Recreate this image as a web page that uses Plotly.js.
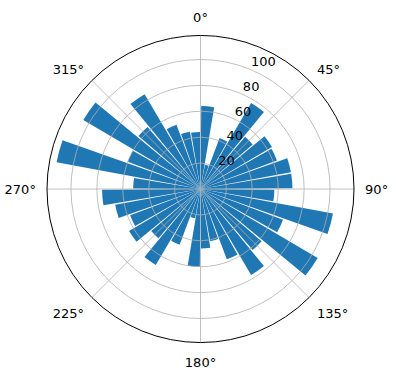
<!DOCTYPE html>
<html>
<head>
<meta charset="utf-8">
<script src="https://cdn.plot.ly/plotly-3.0.1.min.js"></script>
<style>html,body{margin:0;padding:0;background:#fff;}#chart{width:396px;height:380px;}</style>
</head>
<body>
<div id="chart"></div>
<script>
// Bar centre angles (degrees, clockwise from north)
const thetaDeg = [5,15,25,35,45,55,65,75,85,95,105,115,125,135,145,155,165,175,
                  185,195,205,215,225,235,245,255,265,275,285,295,305,315,325,335,345,355];
// Bar lengths (radial values)
const radii = [64,19,42,77,53,64,63,71,71,57,104,68,105,62,77,58,41,46,
               60,23,46,68,50,64,58,67,76,52,113,60,105,63,85,53,45,44];
// Angular tick labels
const angTickVals = [0,45,90,135,180,225,270,315];
const angTickText = ["0°","45°","90°","135°","180°","225°","270°","315°"];
// Radial tick labels
const radTickVals = [20,40,60,80,100];
const radTickText = ["20","40","60","80","100"];

const font = {family: "DejaVu Sans", size: 13, color: "#000"};
const rmax = 118.5;
const labelShift = 6.9;   // radial label offset outward (matplotlib-style placement)

function barTrace(subplot, color) {
  return {
    type: "barpolar", r: radii, theta: thetaDeg, width: 9,
    marker: {color: color, line: {width: 0}},
    subplot: subplot, hoverinfo: "skip"
  };
}

const layout = {
  width: 396, height: 380,
  margin: {l: 46.5, r: 41.5, t: 35, b: 37, pad: 0},
  paper_bgcolor: "#fff",
  showlegend: false,
  font: font,
  polar: {
    domain: {x: [0, 1], y: [0, 1]},
    bgcolor: "#fff",
    bargap: 0,
    angularaxis: {rotation: 90, direction: "clockwise", showgrid: false,
                  showticklabels: false, showline: false, ticks: ""},
    radialaxis: {range: [0, rmax], visible: false, showgrid: false}
  },
  polar2: {
    domain: {x: [0, 1], y: [0, 1]},
    bgcolor: "rgba(0,0,0,0)",
    bargap: 0,
    angularaxis: {rotation: 90, direction: "clockwise",
                  tickmode: "array", tickvals: angTickVals, ticktext: angTickText,
                  showgrid: true, gridcolor: "#b0b0b0", gridwidth: 0.8,
                  showline: true, linecolor: "#000", linewidth: 1,
                  ticks: "outside", ticklen: 8, tickcolor: "rgba(0,0,0,0)", tickfont: font},
    radialaxis: {range: [0, rmax], angle: 67.5,
                 tickmode: "array", tickvals: radTickVals, ticktext: radTickText,
                 showticklabels: false,
                 showline: false, ticks: "", showgrid: true,
                 gridcolor: "#b0b0b0", gridwidth: 0.8}
  },
  polar3: {
    domain: {x: [0, 1], y: [0, 1]},
    bgcolor: "rgba(0,0,0,0)",
    bargap: 0,
    angularaxis: {rotation: 90, direction: "clockwise", showgrid: false,
                  showticklabels: false, showline: false, ticks: ""},
    radialaxis: {range: [-labelShift, rmax - labelShift], angle: 71.5, tickangle: 71.5,
                 tickmode: "array", tickvals: radTickVals, ticktext: radTickText,
                 showline: false, ticks: "", showgrid: false, tickfont: font}
  }
};

Plotly.newPlot("chart",
  [barTrace("polar", "#1f77b4"), barTrace("polar2", "rgba(0,0,0,0)"), barTrace("polar3", "rgba(0,0,0,0)")],
  layout, {staticPlot: true, displayModeBar: false});
</script>
</body>
</html>
